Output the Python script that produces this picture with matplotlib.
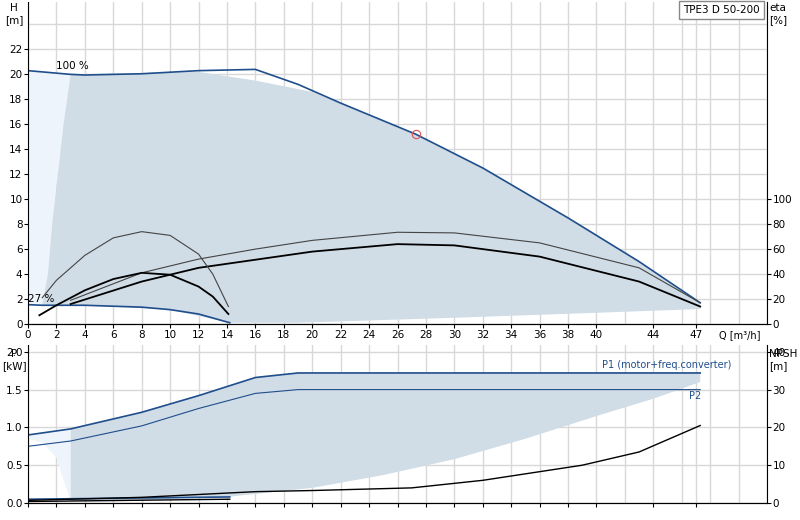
import matplotlib
matplotlib.use("Agg")
import matplotlib.pyplot as plt

# --- data ---
q100 = [0, 3, 4, 8, 12, 16, 19, 22, 27.3, 32, 38, 43, 47.3]
h100 = [20.3, 20.0, 19.95, 20.05, 20.3, 20.4, 19.2, 17.7, 15.2, 12.5, 8.5, 5.0, 1.7]
q27 = [0, 1, 4, 8, 10, 12, 14.2]
h27 = [1.55, 1.5, 1.5, 1.35, 1.15, 0.8, 0.1]
fill_q = [1, 1.4, 1.7, 2.1, 2.5, 3, 12, 16, 20, 27.3, 32, 38, 43, 47.3, 47.3, 40, 30, 19, 14.2, 10, 4, 1]
fill_h = [1.5, 4, 8, 12, 16, 20, 20.2, 19.5, 18.6, 15.2, 12.5, 8.5, 5.0, 1.6, 1.2, 0.9, 0.5, 0.1, 0.1, 1.15, 1.5, 1.5]
light_q = [0, 3, 2.5, 2.1, 1.7, 1.4, 1, 0]
light_h = [20.3, 20, 16, 12, 8, 4, 1.5, 1.55]
eta_thin_q = [3, 8, 12, 16, 20, 26, 30, 36, 43, 47.3]
eta_thin = [19, 41, 52, 60, 67, 73.5, 73, 65, 45, 17]
eta_thick_q = [3, 8, 12, 20, 26, 30, 36, 43, 47.3]
eta_thick = [16, 34, 45, 58, 64, 63, 54, 34, 14]
eta_lo_thin_q = [1, 2, 4, 6, 8, 10, 12, 13, 14.1]
eta_lo_thin = [21, 35, 55, 69, 74, 71, 56, 40, 14]
eta_lo_thick_q = [0.8, 2, 4, 6, 8, 10, 12, 13, 14.1]
eta_lo_thick = [7, 15, 27, 36, 41, 39.5, 30, 22, 8]
dut_q, dut_h = [27.3], [15.2]

p_q = [0, 3, 8, 12, 16, 19, 47.3]
p1 = [0.9, 0.98, 1.2, 1.42, 1.66, 1.72, 1.72]
p2 = [0.75, 0.82, 1.02, 1.25, 1.45, 1.5, 1.5]
pfill_q = [3, 8, 12, 16, 19, 47.3, 47.3, 44, 40, 35, 30, 25, 20, 14, 8, 3]
pfill = [0.98, 1.2, 1.42, 1.66, 1.72, 1.72, 1.6, 1.38, 1.15, 0.85, 0.58, 0.37, 0.2, 0.08, 0.04, 0.03]
plight_q = [0, 3, 3, 2.5, 2, 1, 0]
plight = [0.9, 0.98, 0.03, 0.3, 0.6, 0.8, 0.85]
plo_q = [0, 14.2]
p1_lo = [0.05, 0.08]
p2_lo = [0.02, 0.05]
npsh_q = [0, 8, 16, 20, 27, 32, 39, 43, 47.3]
npsh = [0.7, 1.5, 3.0, 3.3, 4.0, 6.0, 10.0, 13.5, 20.5]
xticks = [0, 2, 4, 6, 8, 10, 12, 14, 16, 18, 20, 22, 24, 26, 28, 30, 32, 34, 36, 38, 40, 44, 47]

DB = "#1f4e8c"
FILL = "#d0dce6"
LIGHT = "#eef4fb"
XMAX = 52
L, W = 28/800, 739/800
fig = plt.figure(figsize=(8, 5.2), dpi=100)
ax = fig.add_axes([L, 1-324/520, W, 322/520])
ax.set_xlim(0, XMAX)
ax.set_ylim(0, 25.8)
ax.fill(light_q, light_h, color=LIGHT, lw=0)
ax.fill(fill_q, fill_h, color=FILL, lw=0)
ax.plot(q100, h100, color=DB, lw=1.2)
ax.plot(q27, h27, color=DB, lw=1.2)
ax.plot(dut_q, dut_h, 'o', mfc='none', mec='#e05050', ms=6, mew=0.8)
ax.text(2, 20.4, "100 %", fontsize=7.5)
ax.text(0, 1.8, "27 %", fontsize=7.5)
ax.set_xticks(xticks)
ax.set_xticks(range(0, XMAX + 1, 2), minor=True)
ax.set_yticks(range(0, 23, 2))
ax.set_yticks(range(0, 26, 2), minor=True)
ax.grid(True, which='both', color='#d8d8d8', lw=1)
ax.set_axisbelow(True)
ax.tick_params(labelsize=7.5, length=3, pad=1)
ax.tick_params(which='minor', length=0)
for s in ['top', 'right']:
    ax.spines[s].set_visible(False)
ax.text(48.6, -0.9, "Q [m³/h]", fontsize=7, ha='left', va='center')
fig.text(14/800, 1-3/520, "H\n[m]", fontsize=7.5, ha='center', va='top')
ax2 = ax.twinx()
ax2.set_ylim(0, 258)
ax2.plot(eta_thin_q, eta_thin, color='#444', lw=0.8)
ax2.plot(eta_thick_q, eta_thick, color='black', lw=1.3)
ax2.plot(eta_lo_thin_q, eta_lo_thin, color='#444', lw=0.8)
ax2.plot(eta_lo_thick_q, eta_lo_thick, color='black', lw=1.3)
ax2.set_yticks(range(0, 101, 20))
ax2.tick_params(labelsize=7.5, length=3, pad=1)
for s in ['top', 'left']:
    ax2.spines[s].set_visible(False)
fig.text(769/800, 1-3/520, "eta\n[%]", fontsize=7.5, ha='left', va='top')
fig.text(683/800, 1-10/520, "TPE3 D 50-200", fontsize=7.5, va='center',
         bbox=dict(fc='white', ec='#888', pad=3))

bx = fig.add_axes([L, 1-503/520, W, 158/520])
bx.set_xlim(0, XMAX)
bx.set_ylim(0, 2.09)
bx.fill(plight_q, plight, color=LIGHT, lw=0)
bx.fill(pfill_q, pfill, color=FILL, lw=0)
bx.plot(p_q, p1, color=DB, lw=1.2)
bx.plot(p_q, p2, color=DB, lw=0.8)
bx.plot(plo_q, p1_lo, color=DB, lw=1.2)
bx.plot(plo_q, p2_lo, color='black', lw=1)
bx.text(49.5, 1.79, "P1 (motor+freq.converter)", fontsize=7, color=DB, ha='right')
bx.text(46.5, 1.38, "P2", fontsize=7, color=DB)
bx.set_xticks(xticks)
bx.set_xticklabels([])
bx.set_xticks(range(0, XMAX + 1, 2), minor=True)
bx.set_yticks([0, 0.5, 1.0, 1.5, 2.0])
bx.set_yticklabels(["0.0", "0.5", "1.0", "1.5", "2.0"])
bx.grid(True, which='both', color='#d8d8d8', lw=1)
bx.set_axisbelow(True)
bx.tick_params(labelsize=7.5, length=3, pad=1)
bx.tick_params(which='minor', length=0)
for s in ['top', 'right']:
    bx.spines[s].set_visible(False)
fig.text(14/800, 1-349/520, "P\n[kW]", fontsize=7.5, ha='center', va='top')
bx2 = bx.twinx()
bx2.set_ylim(0, 2.09/0.05)
bx2.plot(npsh_q, npsh, color='black', lw=1)
bx2.set_yticks(range(0, 41, 10))
bx2.tick_params(labelsize=7.5, length=3, pad=1)
for s in ['top', 'left']:
    bx2.spines[s].set_visible(False)
fig.text(769/800, 1-349/520, "NPSH\n[m]", fontsize=7.5, ha='left', va='top')
fig.savefig("out.png", dpi=100)
